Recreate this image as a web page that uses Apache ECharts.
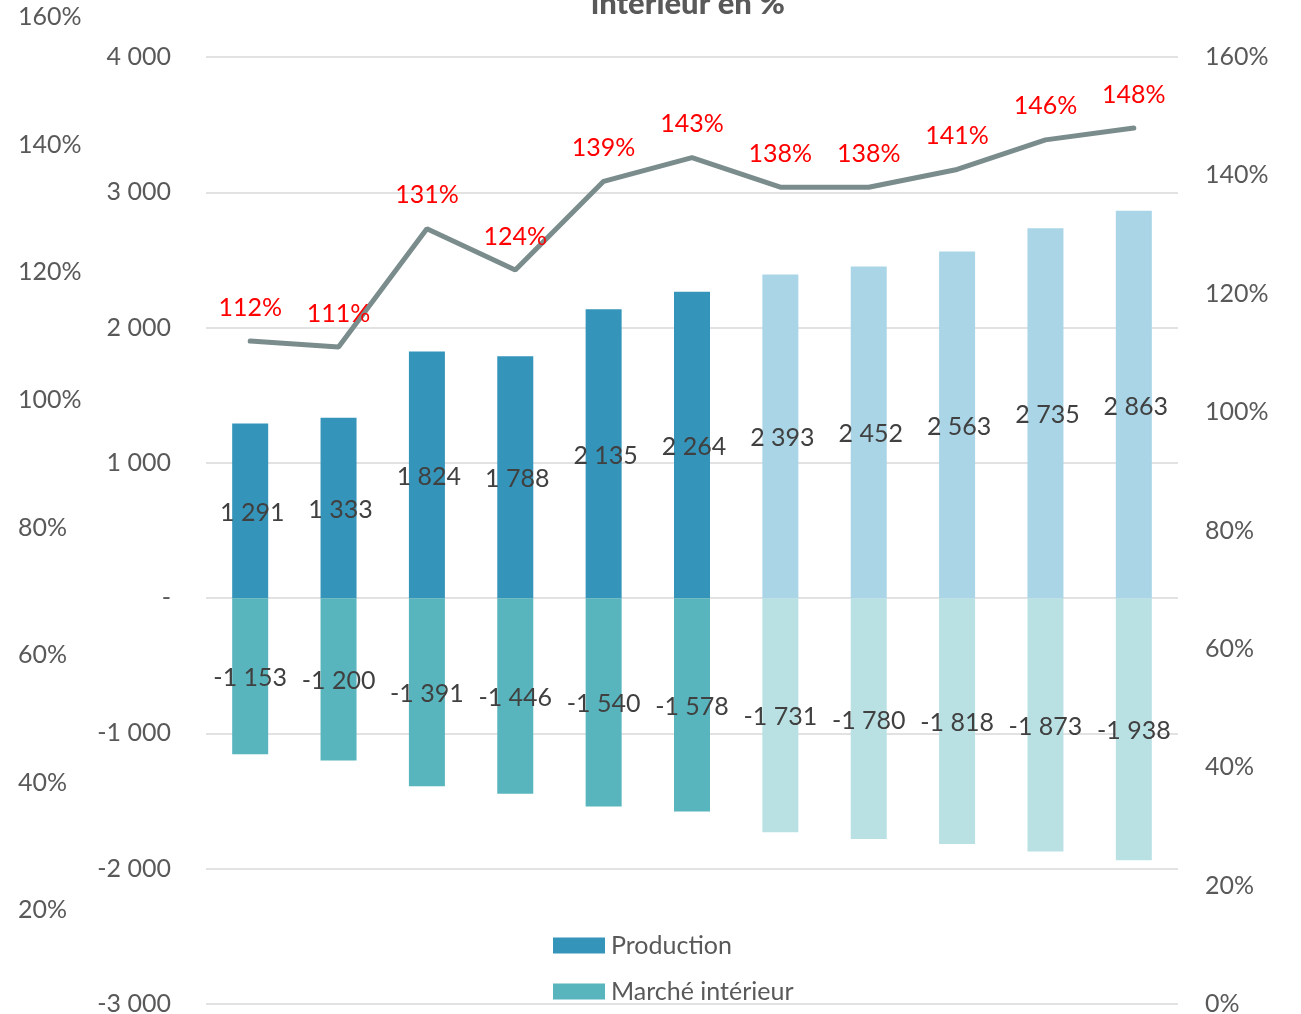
<!DOCTYPE html>
<html>
<head>
<meta charset="utf-8">
<script src="https://cdn.jsdelivr.net/npm/echarts@6/dist/echarts.min.js"></script>
<style>
  html, body { margin: 0; padding: 0; background: #fff; }
  #chart { width: 1301px; height: 1014px; }
</style>
</head>
<body>
<div id="chart"></div>
<script>
// données
const categories = ["1", "2", "3", "4", "5", "6", "7", "8", "9", "10", "11"];
const production = [1291, 1333, 1824, 1788, 2135, 2264, 2393, 2452, 2563, 2735, 2863];
const marcheInterieur = [-1153, -1200, -1391, -1446, -1540, -1578, -1731, -1780, -1818, -1873, -1938];
const tauxCouverture = [112, 111, 131, 124, 139, 143, 138, 138, 141, 146, 148];
const firstLightIndex = 6; // barres claires à partir de là

const FONT = "Lato";
const GREY = "#595959";

const fmt = (v) => {
  if (v === 0) return "-";
  const s = String(Math.abs(v)).replace(/\B(?=(\d{3})+(?!\d))/g, " ");
  return (v < 0 ? "-" : "") + s;
};

const withColors = (values, dark, light) =>
  values.map((v, i) => ({
    value: v,
    itemStyle: { color: i < firstLightIndex ? dark : light },
  }));

const chart = echarts.init(document.getElementById("chart"));

const option = {
  animation: false,
  textStyle: { fontFamily: FONT },
  title: {
    text: "intérieur en %",
    left: 683,
    top: -17,
    textAlign: "center",
    textStyle: { fontFamily: FONT, fontSize: 31, fontWeight: 900, color: GREY },
  },
  legend: {
    orient: "vertical",
    left: 548,
    top: 928,
    itemWidth: 52,
    itemHeight: 16,
    itemGap: 21,
    data: ["Production", "Marché intérieur"],
    textStyle: { fontFamily: FONT, fontSize: 25, color: GREY, padding: [0, 0, 0, 1] },
    icon: "rect",
  },
  grid: [
    { left: 206, right: 123, top: 57, bottom: 10, containLabel: false, outerBoundsMode: "none" },
    { left: 90, width: 10, top: 17, height: 1021, containLabel: false, outerBoundsMode: "none" },
  ],
  xAxis: [
    {
      type: "category",
      gridIndex: 0,
      data: categories,
      axisLine: { show: false },
      axisTick: { show: false },
      axisLabel: { show: false },
    },
    {
      type: "category",
      gridIndex: 1,
      data: [""],
      show: false,
    },
  ],
  yAxis: [
    {
      type: "value",
      gridIndex: 0,
      min: -3000,
      max: 4000,
      interval: 1000,
      axisLine: { show: false },
      axisTick: { show: false },
      axisLabel: {
        margin: 35,
        fontSize: 25,
        color: GREY,
        fontFamily: FONT,
        formatter: fmt,
      },
      splitLine: { lineStyle: { color: "#D9D9D9", width: 1.5 } },
    },
    {
      type: "value",
      gridIndex: 0,
      position: "right",
      min: 0,
      max: 160,
      interval: 20,
      axisLine: { show: false },
      axisTick: { show: false },
      splitLine: { show: false },
      axisLabel: {
        margin: 27,
        fontSize: 25,
        color: GREY,
        fontFamily: FONT,
        formatter: "{value}%",
      },
    },
    {
      type: "value",
      gridIndex: 1,
      min: 0,
      max: 160,
      interval: 20,
      axisLine: { show: false },
      axisTick: { show: false },
      splitLine: { show: false },
      axisLabel: {
        margin: 72,
        align: "left",
        fontSize: 25,
        color: GREY,
        fontFamily: FONT,
        formatter: "{value}%",
      },
    },
  ],
  series: [
    {
      name: "Production",
      type: "bar",
      xAxisIndex: 0,
      yAxisIndex: 0,
      barWidth: 36,
      barGap: "-100%",
      color: "#3594BA",
      data: withColors(production, "#3594BA", "#A9D5E7"),
      label: {
        show: true,
        position: "inside",
        offset: [2, 2],
        color: "#404040",
        fontSize: 25,
        fontFamily: FONT,
        formatter: (p) => fmt(p.value),
      },
    },
    {
      name: "Marché intérieur",
      type: "bar",
      xAxisIndex: 0,
      yAxisIndex: 0,
      barWidth: 36,
      barGap: "-100%",
      color: "#58B5BE",
      data: withColors(marcheInterieur, "#58B5BE", "#B9E1E4"),
      label: {
        show: true,
        position: "inside",
        offset: [0, 2],
        color: "#404040",
        fontSize: 25,
        fontFamily: FONT,
        formatter: (p) => fmt(p.value),
      },
    },
    {
      name: "Taux de couverture",
      type: "line",
      xAxisIndex: 0,
      yAxisIndex: 1,
      data: tauxCouverture,
      symbol: "circle",
      symbolSize: 0,
      showSymbol: true,
      lineStyle: { color: "#7B8C8C", width: 5, cap: "round" },
      itemStyle: { color: "#7B8C8C" },
      label: {
        show: true,
        position: "top",
        distance: 21,
        color: "#FF0000",
        fontSize: 25,
        fontFamily: FONT,
        formatter: "{c}%",
      },
    },
  ],
};

chart.setOption(option);
</script>
</body>
</html>
